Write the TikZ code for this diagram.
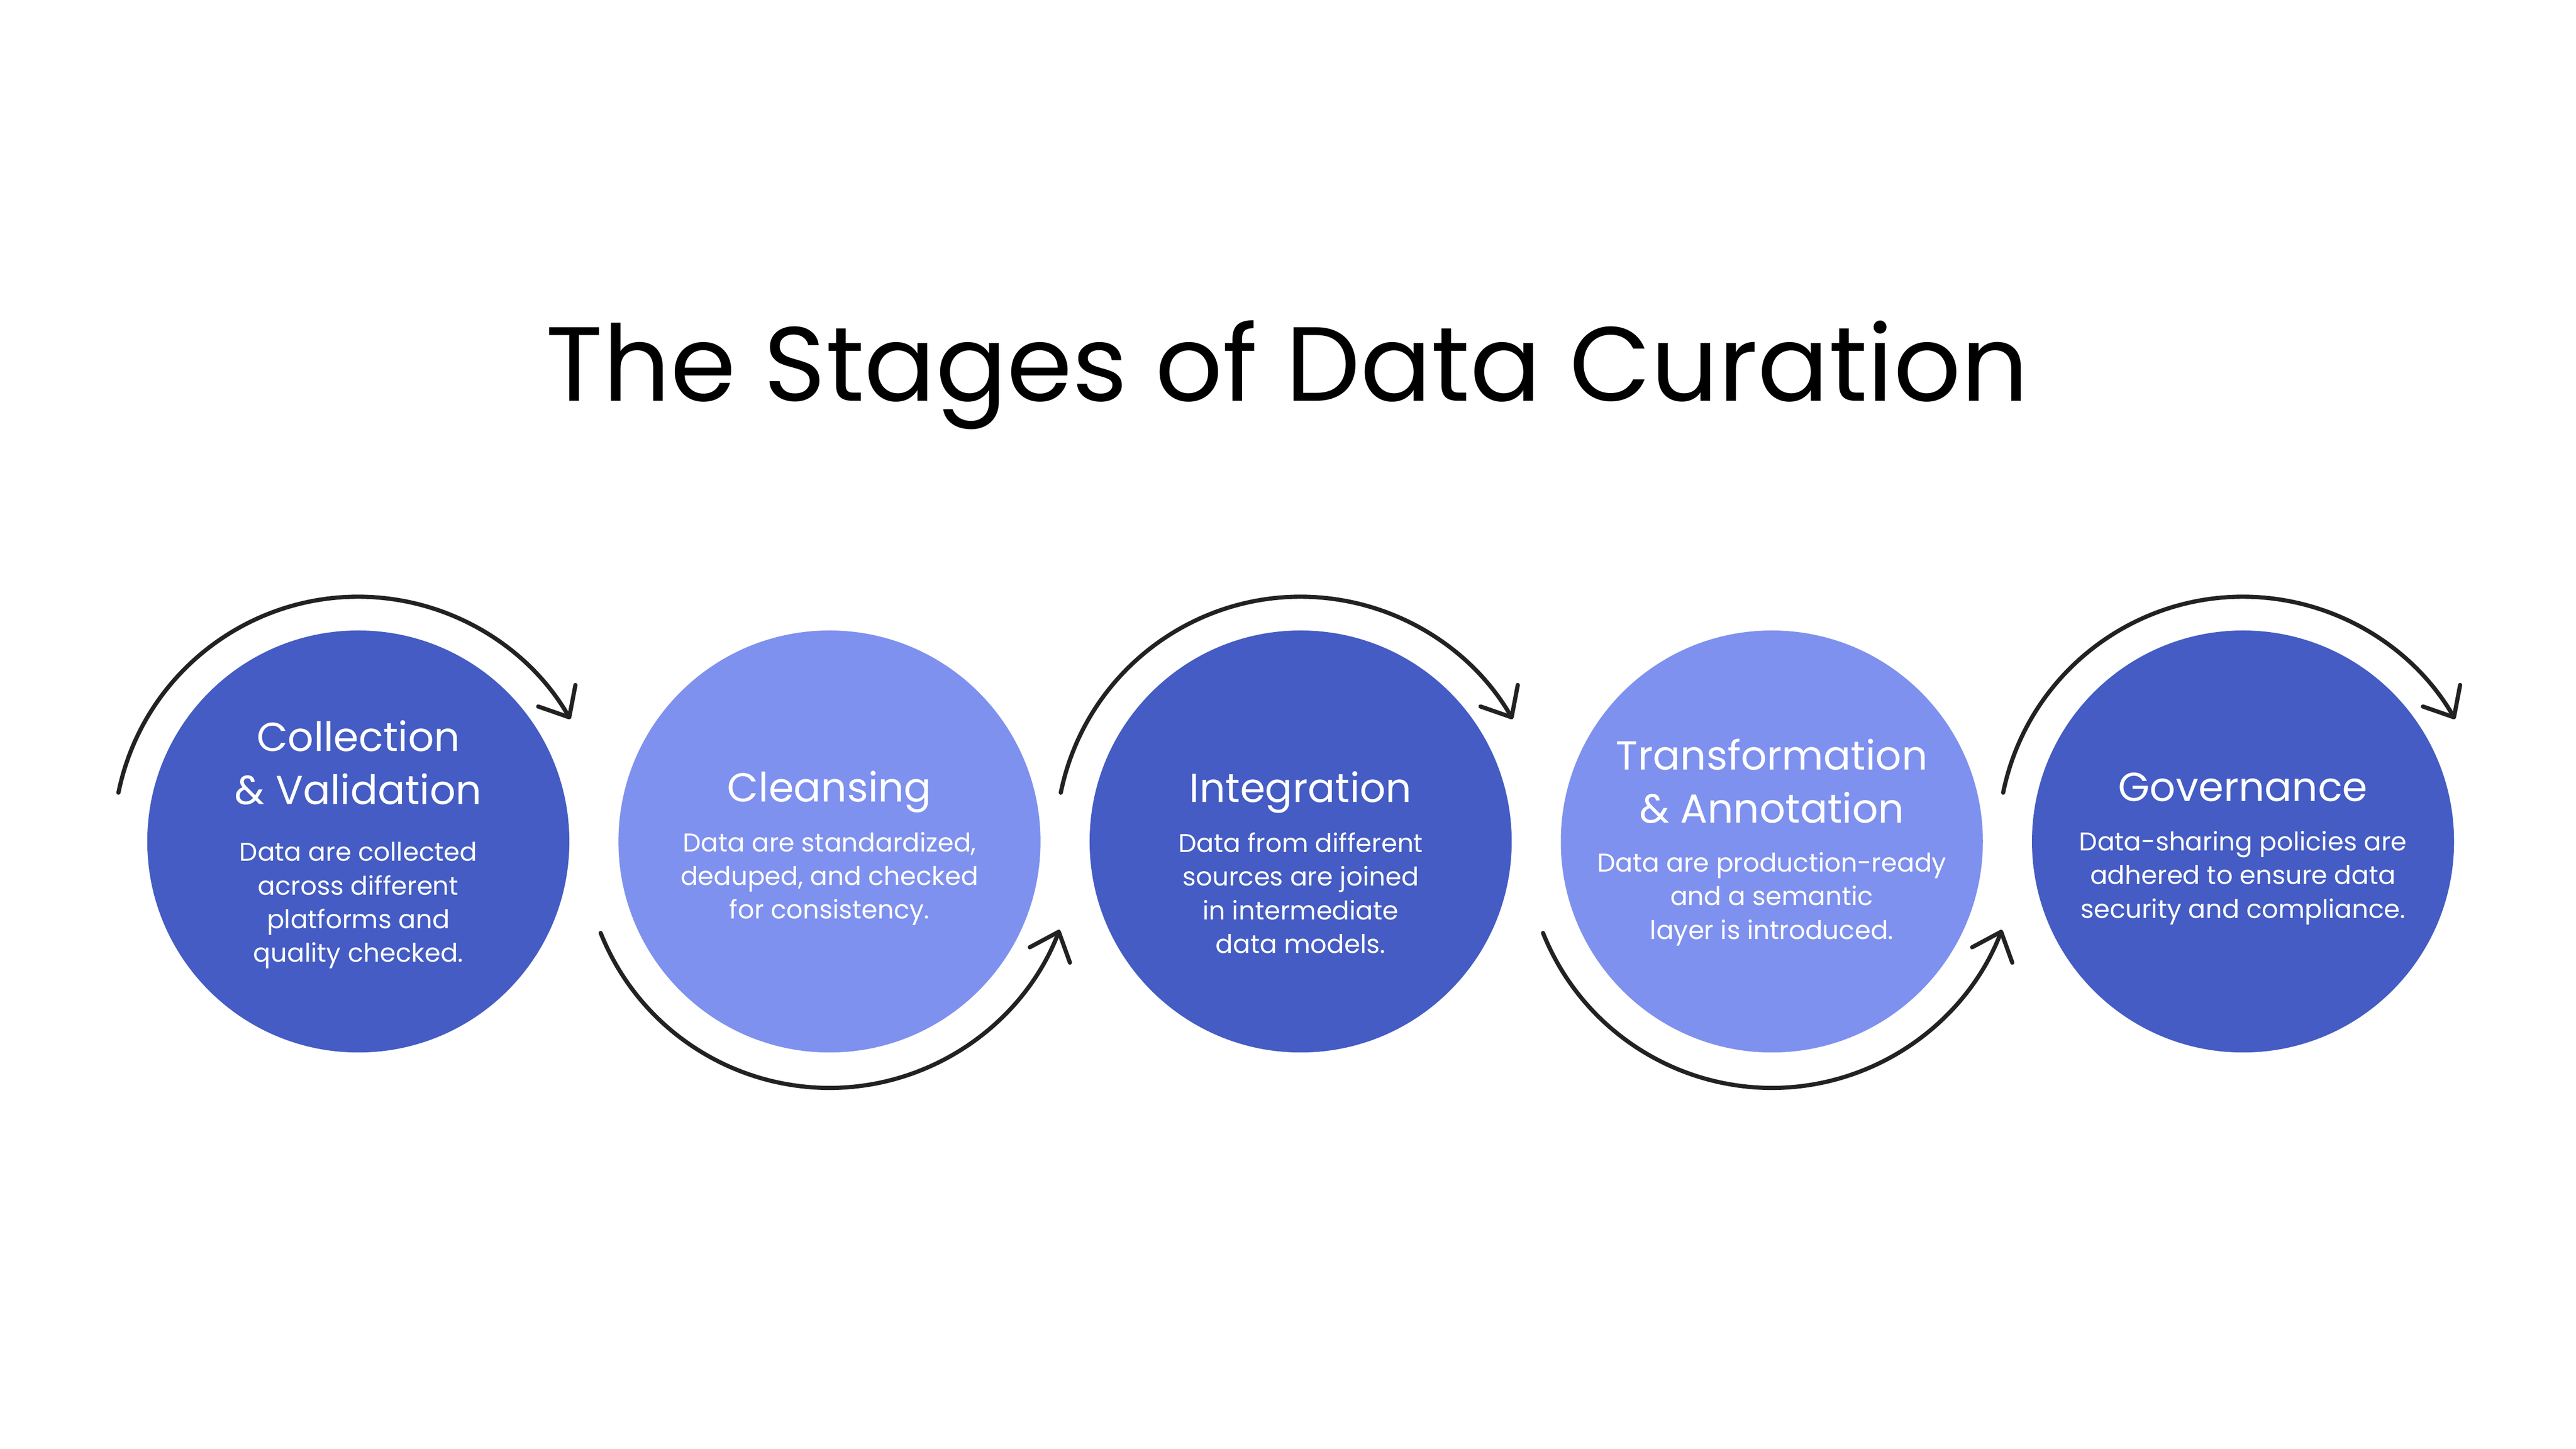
\documentclass[tikz,border=0pt]{standalone}
\usepackage{fontspec}
\setmainfont{Poppins}
\usetikzlibrary{arrows.meta,calc}
\definecolor{darkblue}{RGB}{68,92,195}
\definecolor{lightblue}{RGB}{127,145,238}
\definecolor{arcgray}{RGB}{34,34,34}
\tikzset{
  stage/.style={circle, inner sep=0pt, minimum size=186.5pt, draw=none},
  darkstage/.style={stage, fill=darkblue},
  lightstage/.style={stage, fill=lightblue},
  stagetitle/.style={anchor=base, align=center, text=white, inner sep=0pt, font=\fontsize{17.9}{23.5}\selectfont},
  stagebody/.style={anchor=base, align=center, text=white, inner sep=0pt, font=\fontsize{11.35}{14.88}\selectfont},
  looparrow/.style={draw=arcgray, line width=1.85pt, line cap=round, line join=round,
    -{Straight Barb[length=11pt, width=19pt, line width=1.85pt, round]}},
}
\begin{document}
\begin{tikzpicture}[x=0.02551cm, y=0.02551cm]
\useasboundingbox (0,0) rectangle (1568,882);
\fill[white] (0,0) rectangle (1568,882);

\node[anchor=base, inner sep=0pt, font=\fontsize{46.6}{52}\selectfont] (title) at (783.5,638) {The Stages of Data Curation};

\node[darkstage]  (c1) at (218.1,369.7) {};
\node[lightstage] (c2) at (504.9,369.7) {};
\node[darkstage]  (c3) at (791.7,369.7) {};
\node[lightstage] (c4) at (1078.5,369.7) {};
\node[darkstage]  (c5) at (1365.3,369.7) {};

% texts (anchor = baseline of the last line)
\node[stagetitle] (t1) at (218.1,392.2) {Collection\\\& Validation};
\node[stagebody]  (b1) at (218.1,296.2) {Data are collected\\across different\\platforms and\\quality checked.};

\node[stagetitle] (t2) at (504.9,394) {Cleansing};
\node[stagebody]  (b2) at (504.9,322.6) {Data are standardized,\\deduped, and checked\\for consistency.};

\node[stagetitle] (t3) at (791.7,393.5) {Integration};
\node[stagebody]  (b3) at (791.7,301.7) {Data from different\\sources are joined\\in intermediate\\data models.};

\node[stagetitle] (t4) at (1078.5,381.1) {Transformation\\\& Annotation};
\node[stagebody]  (b4) at (1078.5,310.3) {Data are production-ready\\and a semantic\\layer is introduced.};

\node[stagetitle] (t5) at (1365.3,394.3) {Governance};
\node[stagebody]  (b5) at (1365.3,323.1) {Data-sharing policies are\\adhered to ensure data\\security and compliance.};

% arcs
\foreach \c in {c1,c3,c5} {
  \draw[looparrow] ($(\c.center)+(168.5:149)$) arc[start angle=168.5, end angle=30, radius=149];
}
\foreach \c in {c2,c4} {
  \draw[looparrow] ($(\c.center)+(201.8:150)$) arc[start angle=201.8, end angle=339, radius=150];
}
\end{tikzpicture}
\end{document}
